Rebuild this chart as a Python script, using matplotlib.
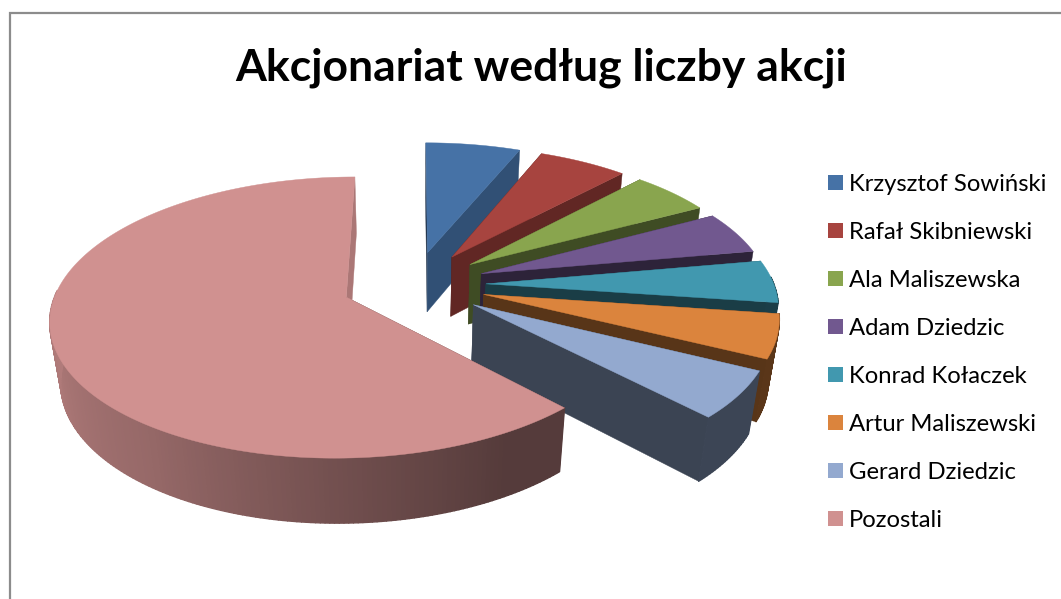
import numpy as np
import matplotlib.pyplot as plt
from matplotlib.collections import PolyCollection
from matplotlib.patches import Patch

names = ['Krzysztof Sowiński', 'Rafał Skibniewski', 'Ala Maliszewska', 'Adam Dziedzic',
         'Konrad Kołaczek', 'Artur Maliszewski', 'Gerard Dziedzic', 'Pozostali']
shares = [6.2, 5.8, 5.2, 5.0, 5.0, 5.1, 5.5, 62.2]
colors = ['#4672a6', '#a7443f', '#89a54e', '#71588f', '#4198af', '#db843d', '#93a9cf', '#d09190']
title = 'Akcjonariat według liczby akcji'

# camera for the tilted pie, values in screen pixels
cx, cy = 414, 284.5
rx, ry = 288, 134
persp = 1 / 7
depth, depth_w = 62, 0.03
explode = 0.25


def project(u, v, z):
    w = 1 + persp * v + depth_w * z
    return np.column_stack([cx + rx * u / w, cy - (ry * v + -depth * z) / w])


def shade(rgb, f):
    return tuple(np.array(plt.matplotlib.colors.to_rgb(rgb)) * f)


fig = plt.figure(figsize=(10.61, 5.99), dpi=100)
ax = fig.add_axes([0, 0, 1, 1])
ax.set_xlim(0, 1061)
ax.set_ylim(599, 0)
ax.axis('off')

ax.plot([9.5, 9.5, 1061], [599, 13, 13], color='#8c8c8c', lw=1.6, solid_joinstyle='miter')

edges = np.concatenate([[0], np.cumsum(shares)]) / np.sum(shares) * 2 * np.pi

for i in range(len(shares)):
    t0, t1 = edges[i], edges[i + 1]
    mid = (t0 + t1) / 2
    ax_u, ax_v = explode * np.sin(mid), explode * np.cos(mid)
    t = np.linspace(t0, t1, max(int((t1 - t0) * 70), 8))
    u = ax_u + np.sin(t)
    v = ax_v + np.cos(t)
    top = project(u, v, 0 * t)
    low = project(u, v, 0 * t + 1)
    apex_top = project(np.array([ax_u]), np.array([ax_v]), np.array([0.0]))
    apex_low = project(np.array([ax_u]), np.array([ax_v]), np.array([1.0]))

    # the two cut faces
    deg_end = np.degrees(t1)
    f_end = np.interp(deg_end, [20, 40, 60, 80, 359, 360], [0.72, 0.6, 0.47, 0.4, 0.4, 0.82])
    f_start = 0.45
    for a, b, f in [(top[0], low[0], f_start), (top[-1], low[-1], f_end)]:
        ax.fill(*np.vstack([apex_top, a, b, apex_low]).T, color=shade(colors[i], f), lw=0.3, zorder=2 + i)

    # outer rim, split in quads for the gradient, only the part facing the viewer
    tm = (t[:-1] + t[1:]) / 2
    front = np.where(np.cos(tm) < 0.05)[0]
    f_rim = np.interp(np.degrees(tm[front]), [150, 180, 215, 250, 270], [0.41, 0.55, 0.72, 0.82, 0.86])
    quads = [np.vstack([top[j], top[j + 1], low[j + 1], low[j]]) for j in front]
    rim_cols = [shade(colors[i], f) for f in f_rim]
    ax.add_collection(PolyCollection(quads, facecolors=rim_cols, edgecolors=rim_cols, linewidths=1.0, zorder=2 + i))

    ax.fill(*np.vstack([apex_top, top]).T, color=colors[i], lw=0.3, zorder=2 + i)

ax.text(541, 68, title, fontsize=32, fontweight='bold', family='Lato', ha='center', va='center', color='black')

handles = [Patch(facecolor=c, edgecolor='none', label=n) for n, c in zip(names, colors)]
ax.legend(handles=handles, loc='upper left', bbox_to_anchor=(823.3 / 1061, 1 - 169 / 599), frameon=False,
          prop={'family': 'Lato', 'size': 17.2}, handlelength=0.63, handleheight=0.63, handletextpad=0.24,
          labelspacing=1.13, borderpad=0.2, borderaxespad=0)

fig.savefig('out.png', dpi=100)
